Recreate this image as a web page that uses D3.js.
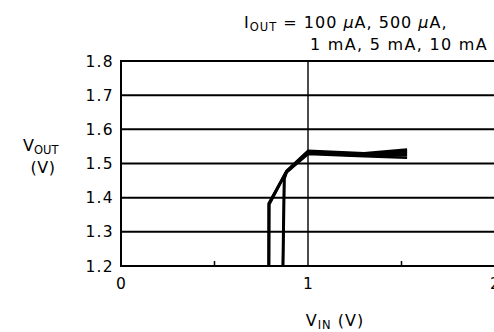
<!DOCTYPE html>
<html><head><meta charset="utf-8">
<script src="https://cdn.jsdelivr.net/npm/d3@7/dist/d3.min.js"></script>
<style>
html,body{margin:0;padding:0;background:#fff;overflow:hidden;}
svg text{font-family:"DejaVu Sans",sans-serif;fill:#000;}
</style></head><body>
<svg id="c" width="494" height="332"></svg>
<script>
const xTicks = [0, 1, 2];
const xMinorTicks = [0.5, 1.5];
const yTicks = [1.2, 1.3, 1.4, 1.5, 1.6, 1.7, 1.8];
const seriesNames = ["100 µA", "500 µA", "1 mA", "5 mA", "10 mA"];
const vin100u = [0.79, 0.79, 0.885, 1.0, 1.3, 1.53];
const vout100u = [1.2, 1.383, 1.478, 1.537, 1.530, 1.541];
const vin500u = [0.79, 0.791, 0.885, 1.0, 1.3, 1.53];
const vout500u = [1.2, 1.381, 1.477, 1.535, 1.528, 1.536];
const vin1m = [0.792, 0.793, 0.885, 1.0, 1.3, 1.53];
const vout1m = [1.2, 1.380, 1.476, 1.533, 1.526, 1.530];
const vin5m = [0.865, 0.872, 0.885, 1.0, 1.3, 1.53];
const vout5m = [1.2, 1.457, 1.475, 1.530, 1.523, 1.524];
const vin10m = [0.867, 0.874, 0.886, 1.0, 1.3, 1.53];
const vout10m = [1.2, 1.455, 1.474, 1.528, 1.521, 1.517];
const series = [[vin100u, vout100u],[vin500u, vout500u],[vin1m, vout1m],[vin5m, vout5m],[vin10m, vout10m]];

const svg = d3.select("#c");
const x = d3.scaleLinear().domain([0, 2]).range([121, 495]);
const y = d3.scaleLinear().domain([1.2, 1.8]).range([266, 61]);

svg.append("g").selectAll("line").data(yTicks).join("line")
  .attr("x1", x(0)).attr("x2", 494).attr("y1", d => y(d)).attr("y2", d => y(d))
  .attr("stroke", "#000").attr("stroke-width", 2);
svg.append("line").attr("x1", x(1)).attr("x2", x(1)).attr("y1", y(1.8)).attr("y2", y(1.2))
  .attr("stroke", "#000").attr("stroke-width", 1.4);
svg.append("line").attr("x1", x(0)).attr("x2", x(0)).attr("y1", y(1.8) - 1).attr("y2", y(1.2) + 1)
  .attr("stroke", "#000").attr("stroke-width", 2);
svg.append("g").selectAll("line").data(xMinorTicks).join("line")
  .attr("x1", d => x(d)).attr("x2", d => x(d)).attr("y1", y(1.2)).attr("y2", y(1.2) - 5)
  .attr("stroke", "#000").attr("stroke-width", 1.5);

svg.append("g").selectAll("text").data(yTicks).join("text")
  .attr("x", 114).attr("y", d => y(d) + 5.5).attr("text-anchor", "end")
  .attr("font-size", 15.5).attr("letter-spacing", 1.3).text(d => d.toFixed(1));
svg.append("g").selectAll("text").data(xTicks).join("text")
  .attr("x", d => x(d)).attr("y", 289).attr("text-anchor", "middle")
  .attr("font-size", 15.5).text(d => d);

const line = d3.line().x(d => x(d[0])).y(d => y(d[1]));
svg.append("g").selectAll("path").data(series).join("path")
  .attr("d", s => line(s[0].map((v, i) => [v, s[1][i]])))
  .attr("fill", "none").attr("stroke", "#000").attr("stroke-width", 2.6)
  .attr("stroke-linejoin", "round");

const yl = svg.append("text").attr("x", 23).attr("y", 151).attr("font-size", 16);
yl.append("tspan").text("V");
yl.append("tspan").attr("font-size", 11.5).attr("dy", 3).text("OUT");
svg.append("text").attr("x", 43).attr("y", 173).attr("text-anchor", "middle").attr("font-size", 16)
  .attr("letter-spacing", 0.5).text("(V)");

const xl = svg.append("text").attr("x", 335).attr("y", 326).attr("text-anchor", "middle")
  .attr("font-size", 16).attr("letter-spacing", 1);
xl.append("tspan").text("V");
xl.append("tspan").attr("font-size", 11.5).attr("dy", 3).text("IN");
xl.append("tspan").attr("dy", -3).text(" (V)");

const t1 = svg.append("text").attr("x", 244).attr("y", 28).attr("font-size", 16).attr("letter-spacing", 1);
t1.append("tspan").text("I");
t1.append("tspan").attr("font-size", 11.5).attr("dy", 3).text("OUT");
t1.append("tspan").attr("dy", -3).text(" = 100 ");
t1.append("tspan").attr("font-style", "italic").text("µ");
t1.append("tspan").text("A, 500 ");
t1.append("tspan").attr("font-style", "italic").text("µ");
t1.append("tspan").text("A,");
svg.append("text").attr("x", 488).attr("y", 50).attr("text-anchor", "end").attr("font-size", 16)
  .attr("letter-spacing", 1.3).text("1 mA, 5 mA, 10 mA");
</script>
</body></html>
